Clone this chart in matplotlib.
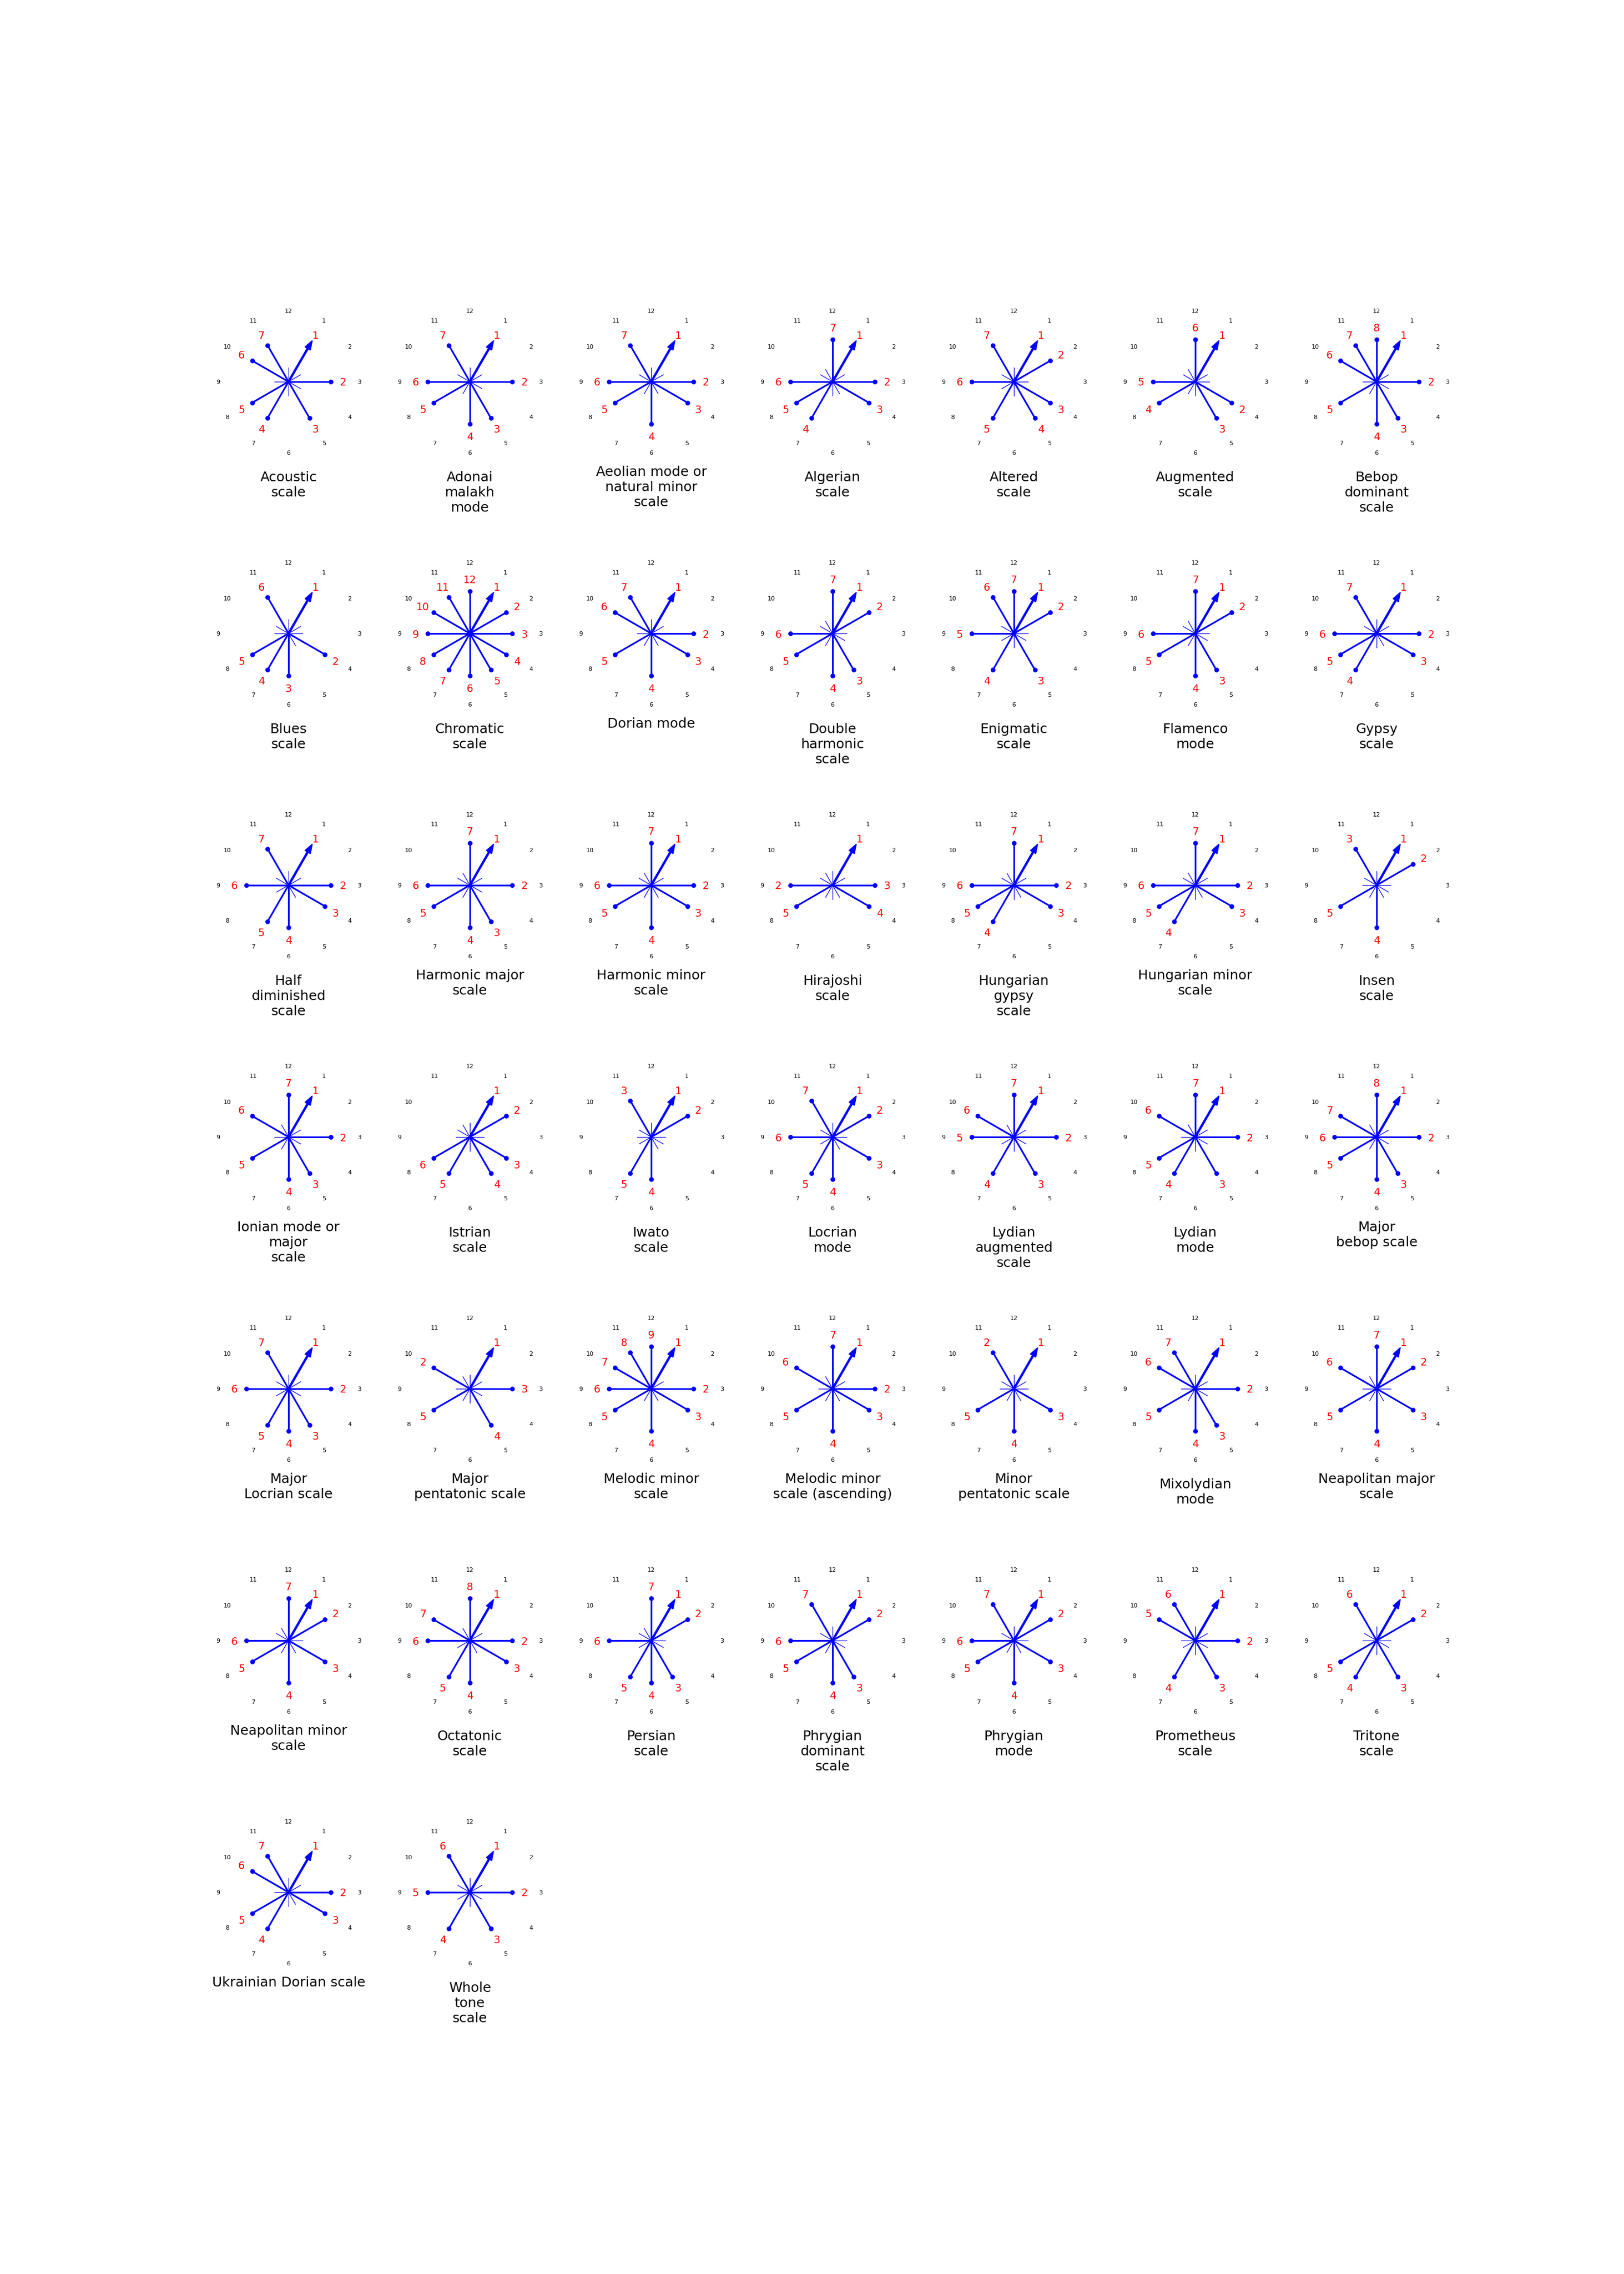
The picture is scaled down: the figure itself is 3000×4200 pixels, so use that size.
import numpy as np
import matplotlib.pyplot as plt

# scale names as they are wrapped under each clock
titles = [
    "Acoustic\nscale", "Adonai\nmalakh\nmode", "Aeolian mode or\nnatural minor\nscale",
    "Algerian\nscale", "Altered\nscale", "Augmented\nscale", "Bebop\ndominant\nscale",
    "Blues\nscale", "Chromatic\nscale", "Dorian mode", "Double\nharmonic\nscale",
    "Enigmatic\nscale", "Flamenco\nmode", "Gypsy\nscale",
    "Half\ndiminished\nscale", "Harmonic major\nscale", "Harmonic minor\nscale",
    "Hirajoshi\nscale", "Hungarian\ngypsy\nscale", "Hungarian minor\nscale", "Insen\nscale",
    "Ionian mode or\nmajor\nscale", "Istrian\nscale", "Iwato\nscale", "Locrian\nmode",
    "Lydian\naugmented\nscale", "Lydian\nmode", "Major\nbebop scale",
    "Major\nLocrian scale", "Major\npentatonic scale", "Melodic minor\nscale",
    "Melodic minor\nscale (ascending)", "Minor\npentatonic scale", "Mixolydian\nmode",
    "Neapolitan major\nscale",
    "Neapolitan minor\nscale", "Octatonic\nscale", "Persian\nscale",
    "Phrygian\ndominant\nscale", "Phrygian\nmode", "Prometheus\nscale", "Tritone\nscale",
    "Ukrainian Dorian scale", "Whole\ntone\nscale",
]

# clock position (1..12) of scale degree 1, 2, 3, ...
positions = [
    [1, 3, 5, 7, 8, 10, 11],
    [1, 3, 5, 6, 8, 9, 11],
    [1, 3, 4, 6, 8, 9, 11],
    [1, 3, 4, 7, 8, 9, 12],
    [1, 2, 4, 5, 7, 9, 11],
    [1, 4, 5, 8, 9, 12],
    [1, 3, 5, 6, 8, 10, 11, 12],
    [1, 4, 6, 7, 8, 11],
    [1, 2, 3, 4, 5, 6, 7, 8, 9, 10, 11, 12],
    [1, 3, 4, 6, 8, 10, 11],
    [1, 2, 5, 6, 8, 9, 12],
    [1, 2, 5, 7, 9, 11, 12],
    [1, 2, 5, 6, 8, 9, 12],
    [1, 3, 4, 7, 8, 9, 11],
    [1, 3, 4, 6, 7, 9, 11],
    [1, 3, 5, 6, 8, 9, 12],
    [1, 3, 4, 6, 8, 9, 12],
    [1, 9, 3, 4, 8],
    [1, 3, 4, 7, 8, 9, 12],
    [1, 3, 4, 7, 8, 9, 12],
    [1, 2, 11, 6, 8],
    [1, 3, 5, 6, 8, 10, 12],
    [1, 2, 4, 5, 7, 8],
    [1, 2, 11, 6, 7],
    [1, 2, 4, 6, 7, 9, 11],
    [1, 3, 5, 7, 9, 10, 12],
    [1, 3, 5, 7, 8, 10, 12],
    [1, 3, 5, 6, 8, 9, 10, 12],
    [1, 3, 5, 6, 7, 9, 11],
    [1, 10, 3, 5, 8],
    [1, 3, 4, 6, 8, 9, 10, 11, 12],
    [1, 3, 4, 6, 8, 10, 12],
    [1, 11, 4, 6, 8],
    [1, 3, 5, 6, 8, 10, 11],
    [1, 2, 4, 6, 8, 10, 12],
    [1, 2, 4, 6, 8, 9, 12],
    [1, 3, 4, 6, 7, 9, 10, 12],
    [1, 2, 5, 6, 7, 9, 12],
    [1, 2, 5, 6, 8, 9, 11],
    [1, 2, 4, 6, 8, 9, 11],
    [1, 3, 5, 7, 10, 11],
    [1, 2, 5, 7, 8, 11],
    [1, 3, 4, 7, 8, 10, 11],
    [1, 3, 5, 7, 9, 11],
]

clock = list(range(1, 13))

W, H = 3000, 4200
px = 77.7      # pixels per unit radius
half = 2.15    # axes half-size in data units

fig = plt.figure(figsize=(10, 14), dpi=300)


def xy(p, r=1.0):
    a = np.deg2rad(30 * p)
    return r * np.sin(a), r * np.cos(a)


for i, (title, pos) in enumerate(zip(titles, positions)):
    row, col = divmod(i, 7)
    cx = 533 + 335 * col
    cy = 705 + 465 * row
    side = 2 * half * px
    ax = fig.add_axes([(cx - side / 2) / W, 1 - (cy + side / 2) / H, side / W, side / H])
    ax.set_xlim(-half, half)
    ax.set_ylim(-half, half)
    ax.set_aspect('equal')
    ax.axis('off')

    # thin star in the middle
    for p in clock:
        x, y = xy(p, 0.33)
        ax.plot([0, x], [0, y], color='blue', lw=0.3)

    # clock numbers
    for p in clock:
        x, y = xy(p, 1.68)
        ax.text(x, y, str(p), fontsize=2.7, ha='center', va='center_baseline')

    # scale degrees
    for d, p in enumerate(pos, start=1):
        if d == 1:
            x, y = xy(p, 1.13)
            ax.arrow(0, 0, x, y, width=0.035, head_width=0.15, head_length=0.22,
                     length_includes_head=True, color='blue', lw=0.4)
        else:
            x, y = xy(p)
            ax.plot([0, x], [0, y], color='blue', lw=0.75)
            ax.plot(x, y, 'o', color='blue', ms=2.1, mew=0)
        tx, ty = xy(p, 1.29)
        ax.text(tx, ty, str(d), color='red', fontsize=4.6, ha='center', va='center_baseline')

    wide = max(len(s) for s in title.split('\n')) >= 11
    ty = -(165 - 9.9) / px if wide else -(175 - 9.9) / px
    ax.text(0, ty, title, fontsize=6, ha='center', va='top', clip_on=False)

fig.savefig('out.png', dpi=300)
